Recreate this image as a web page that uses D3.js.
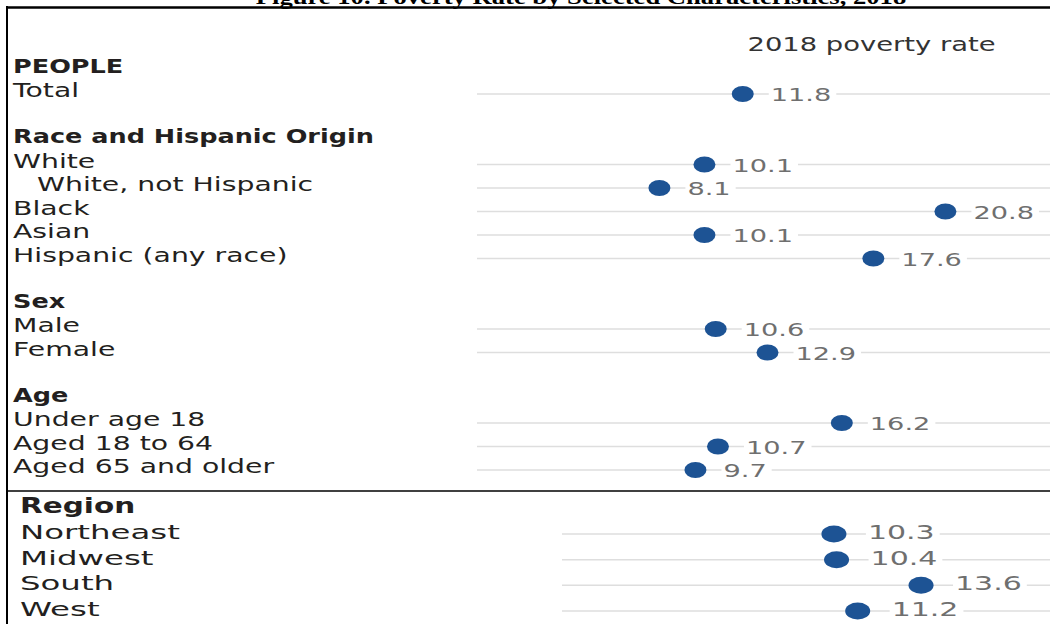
<!DOCTYPE html>
<html><head><meta charset="utf-8">
<script src="https://cdn.jsdelivr.net/npm/d3@7"></script>
<style>html,body{margin:0;padding:0;background:#fff;overflow:hidden}</style>
</head><body><svg id="c" width="1050" height="624"></svg>
<script>
// ---- data ----
const titleText = "Figure 10. Poverty Rate by Selected Characteristics, 2018";
const columnTitle = "2018 poverty rate";
const groupNames = ["PEOPLE", "Race and Hispanic Origin", "Sex", "Age"];
const categories = ["Total", "White", "White, not Hispanic", "Black", "Asian", "Hispanic (any race)",
  "Male", "Female", "Under age 18", "Aged 18 to 64", "Aged 65 and older"];
const categoryGroup = [0, 1, 1, 1, 1, 1, 2, 2, 3, 3, 3];
const povertyRate = [11.8, 10.1, 8.1, 20.8, 10.1, 17.6, 10.6, 12.9, 16.2, 10.7, 9.7];
const indentedCategories = ["White, not Hispanic"];
const regionGroupName = "Region";
const regions = ["Northeast", "Midwest", "South", "West"];
const regionRate = [10.3, 10.4, 13.6, 11.2];

// ---- drawing ----
(function () {
const svg = d3.select("#c");
const W = 1050, H = 624;
const FONT = "'DejaVu Sans', sans-serif";
const dotColor = "#1d5394";
const gridColor = "#dedede";
const labelColor = "#231f20";
const valueColor = "#6f6f6f";

function stretchedText(parent, x, y, txt, opt) {
  const g = parent.append("g").attr("transform", `translate(${x},${y})`);
  g.append("text")
    .attr("transform", `scale(${opt.sx},1)`)
    .attr("font-family", opt.family || FONT)
    .attr("font-size", opt.size)
    .attr("font-weight", opt.weight || "normal")
    .attr("text-anchor", opt.anchor || "start")
    .attr("fill", opt.fill)
    .text(txt);
  return g;
}

// title (mostly cut off at top, as in the reference)
stretchedText(svg, 581, 4, titleText, {sx: 1.21, size: 22, weight: "bold", family: "'Liberation Serif', serif", anchor: "middle", fill: "#000"});

// frame
svg.append("line").attr("x1", 6).attr("x2", W).attr("y1", 7.5).attr("y2", 7.5).attr("stroke", "#000").attr("stroke-width", 2.5);
svg.append("line").attr("x1", 7).attr("x2", 7).attr("y1", 6).attr("y2", H).attr("stroke", "#000").attr("stroke-width", 2);
svg.append("line").attr("x1", 7).attr("x2", W).attr("y1", 491).attr("y2", 491).attr("stroke", "#000").attr("stroke-width", 1.5);

// ---------- top section ----------
const rows = [];
groupNames.forEach((gname, gi) => {
  if (gi > 0) rows.push({type: "blank"});
  rows.push({type: "header", label: gname});
  categories.forEach((c, i) => {
    if (categoryGroup[i] === gi) rows.push({type: "item", label: c, value: povertyRate[i]});
  });
});

const xTop = d3.scaleLinear().domain([0, 25]).range([477, 1040]);
const yTop = d3.scaleLinear().domain([0, rows.length - 1]).range([70.5, 470]);

stretchedText(svg, 871.5, 50.5, columnTitle, {sx: 1.37, size: 20, anchor: "middle", fill: "#333"});

const topG = svg.append("g");
rows.forEach((r, i) => {
  const y = yTop(i);
  if (r.type === "header") {
    stretchedText(topG, 13, y + 2, r.label, {sx: 1.31, size: 19.5, weight: "bold", fill: labelColor});
  } else if (r.type === "item") {
    const lx = indentedCategories.includes(r.label) ? 37 : 13;
    stretchedText(topG, lx, y + 3, r.label, {sx: 1.49, size: 19, fill: labelColor});
    topG.append("line").attr("x1", xTop(0)).attr("x2", W).attr("y1", y).attr("y2", y)
      .attr("stroke", gridColor).attr("stroke-width", 1.5);
    const cx = xTop(r.value);
    const vg = stretchedText(topG, cx + 28, y + 7, r.value.toFixed(1), {sx: 1.47, size: 18.5, fill: valueColor});
    const bb = vg.node().getBBox();
    vg.insert("rect", "text").attr("x", bb.x - 2).attr("y", bb.y).attr("width", bb.width + 7).attr("height", bb.height).attr("fill", "#fff");
    topG.append("ellipse").attr("cx", cx).attr("cy", y).attr("rx", 11).attr("ry", 8).attr("fill", dotColor);
  }
});

// ---------- region section ----------
const xReg = d3.scaleLinear().domain([0, 18]).range([562, 1037.2]);
const yReg = d3.scaleLinear().domain([0, regions.length]).range([508.3, 611]);
const reg = svg.append("g");
stretchedText(reg, 20, yReg(0) + 5, regionGroupName, {sx: 1.44, size: 20.5, weight: "bold", fill: labelColor});
regions.forEach((name, i) => {
  const y = yReg(i + 1);
  stretchedText(reg, 20, y + 5, name, {sx: 1.62, size: 20, fill: labelColor});
  reg.append("line").attr("x1", xReg(0)).attr("x2", W).attr("y1", y).attr("y2", y)
    .attr("stroke", gridColor).attr("stroke-width", 1.5);
  const cx = xReg(regionRate[i]);
  const vg = stretchedText(reg, cx + 34, y + 5, regionRate[i].toFixed(1), {sx: 1.5, size: 20, fill: valueColor});
  const bb = vg.node().getBBox();
  vg.insert("rect", "text").attr("x", bb.x - 2).attr("y", bb.y).attr("width", bb.width + 7).attr("height", bb.height).attr("fill", "#fff");
  reg.append("ellipse").attr("cx", cx).attr("cy", y).attr("rx", 12.5).attr("ry", 8.5).attr("fill", dotColor);
});
})();
</script>
</body></html>
